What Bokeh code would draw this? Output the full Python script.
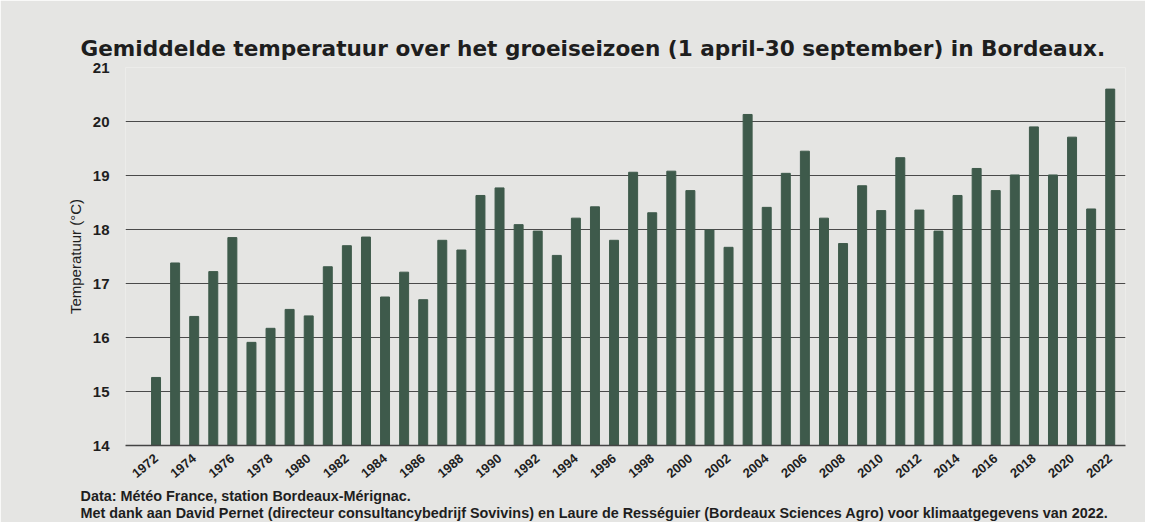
import math
from bokeh.plotting import figure
from bokeh.models import FixedTicker, Title
from bokeh.embed import file_html
from bokeh.resources import INLINE

years = list(range(1972, 2023))
temps = [15.26, 17.38, 16.39, 17.22, 17.85, 15.91, 16.17, 16.52, 16.40, 17.31,
         17.70, 17.86, 16.75, 17.21, 16.70, 17.80, 17.62, 18.63, 18.77, 18.09,
         17.97, 17.52, 18.21, 18.42, 17.80, 19.06, 18.31, 19.08, 18.72, 17.99,
         17.67, 20.13, 18.41, 19.04, 19.45, 18.21, 17.74, 18.81, 18.35, 19.33,
         18.36, 17.97, 18.63, 19.13, 18.72, 19.01, 19.90, 19.01, 19.71, 18.38,
         20.60]
year_ticks = list(range(1972, 2023, 2))
temp_ticks = [14, 15, 16, 17, 18, 19, 20, 21]

title_text = "Gemiddelde temperatuur over het groeiseizoen (1 april-30 september) in Bordeaux."
y_label = "Temperatuur (°C)"
footer1 = "Data: Météo France, station Bordeaux-Mérignac."
footer2 = ("Met dank aan David Pernet (directeur consultancybedrijf Sovivins) en Laure de "
           "Rességuier (Bordeaux Sciences Agro) voor klimaatgegevens van 2022.")

BG = "#e5e5e3"
BAR = "#3e5a4b"
INK = "#1e1e1e"

p = figure(width=1145, height=522, x_range=(1970.4, 2022.8), y_range=(14, 21),
           output_backend="svg", toolbar_location=None,
           min_border_left=125, min_border_right=20, min_border_top=67,
           min_border_bottom=77)

p.background_fill_color = BG
p.border_fill_color = BG
p.outline_line_color = None

p.title.text = title_text
p.title.text_font = "DejaVu Sans"
p.title.text_font_size = "21.6px"
p.title.text_font_style = "bold"
p.title.text_color = INK
p.title.align = "left"
p.title.offset = -45
p.title.standoff = 14

p.vbar(x=years, top=temps, bottom=14, width=0.47, color=BAR)

p.xaxis.ticker = FixedTicker(ticks=year_ticks)
p.xaxis.major_label_orientation = 0.7
p.xaxis.major_label_text_font = "Liberation Sans"
p.xaxis.major_label_text_font_style = "bold"
p.xaxis.major_label_text_font_size = "13px"
p.xaxis.major_label_text_color = INK
p.xaxis.major_tick_line_color = None
p.xaxis.minor_tick_line_color = None
p.xaxis.axis_line_color = "#444444"
p.xaxis.axis_line_width = 1.5
p.xaxis.major_label_standoff = 5

p.yaxis.ticker = FixedTicker(ticks=temp_ticks)
p.yaxis.major_label_text_font = "Liberation Sans"
p.yaxis.major_label_text_font_style = "bold"
p.yaxis.major_label_text_font_size = "15px"
p.yaxis.major_label_text_color = INK
p.yaxis.major_tick_line_color = None
p.yaxis.minor_tick_line_color = None
p.yaxis.axis_line_color = None
p.yaxis.major_label_standoff = 10
p.yaxis.axis_label = y_label
p.yaxis.axis_label_text_font = "Liberation Sans"
p.yaxis.axis_label_text_font_style = "normal"
p.yaxis.axis_label_text_font_size = "15px"
p.yaxis.axis_label_text_color = INK
p.yaxis.axis_label_standoff = 6

p.xgrid.grid_line_color = None
p.ygrid.ticker = FixedTicker(ticks=temp_ticks)
p.ygrid.grid_line_color = "#4a4a4a"
p.ygrid.grid_line_width = 1.2

for i, txt in enumerate((footer1, footer2)):
    t = Title(text=txt, align="left", offset=-45, text_font="Liberation Sans",
              text_font_size="14.4px", text_font_style="bold", text_color=INK,
              standoff=(0 if i == 0 else -2))
    p.add_layout(t, "below")

open("out.html", "w").write(file_html(p, INLINE))
